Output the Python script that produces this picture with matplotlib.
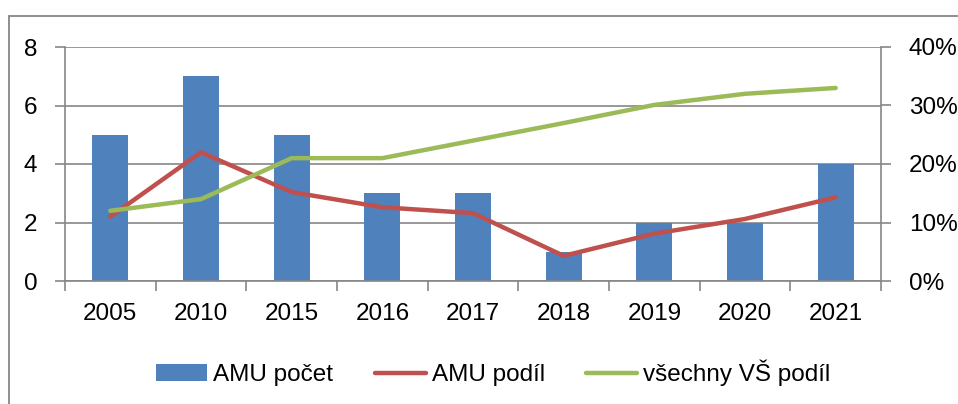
import numpy as np
import matplotlib
matplotlib.use("Agg")
import matplotlib.pyplot as plt
from matplotlib.patches import Rectangle
from matplotlib.ticker import FuncFormatter

# data
years = ["2005", "2010", "2015", "2016", "2017", "2018", "2019", "2020", "2021"]
amu_pocet = [5, 7, 5, 3, 3, 1, 2, 2, 4]
amu_podil = [11.0, 22.0, 15.2, 12.6, 11.6, 4.3, 8.1, 10.6, 14.3]
vs_podil = [12.0, 14.0, 21.0, 21.0, 24.0, 27.0, 30.1, 32.0, 33.0]

BLUE = "#4F81BD"
RED = "#C0504D"
GREEN = "#9BBB59"
GRID = "#868686"
FS = 17.5

plt.rcParams["font.family"] = ["Liberation Sans", "DejaVu Sans"]

fig = plt.figure(figsize=(9.58, 4.04), dpi=100)
# outer chart frame (cut off at right and bottom like the reference)
fig.patches.append(Rectangle((9 / 958, -0.1), 1.2, (404 - 16) / 404 + 0.1,
                             transform=fig.transFigure, fill=False,
                             edgecolor=GRID, linewidth=1.3))

ax = fig.add_axes([65 / 958, 1 - 281 / 404, (881 - 65) / 958, (281 - 47) / 404])
x = np.arange(len(years))

ax.bar(x, amu_pocet, width=0.4, color=BLUE, zorder=2, label="AMU počet")
ax.set_xlim(-0.5, len(years) - 0.5)
ax.set_ylim(0, 8)
ax.set_yticks([0, 2, 4, 6, 8])
ax.yaxis.grid(True, color=GRID, linewidth=1.2)
ax.set_axisbelow(True)
ax.set_xticks(x)
ax.set_xticklabels(years)
ax.set_xticks(np.arange(-0.5, len(years)), minor=True)
ax.tick_params(axis="x", which="major", length=0, pad=16, labelsize=FS)
ax.tick_params(axis="x", which="minor", length=7, color=GRID, width=1.2)
ax.tick_params(axis="y", length=7, color=GRID, width=1.2, labelsize=FS, pad=13)
for s in ["top", "right"]:
    ax.spines[s].set_visible(False)
for s in ["left", "bottom"]:
    ax.spines[s].set_color(GRID)
    ax.spines[s].set_linewidth(1.2)

ax2 = ax.twinx()
ax2.plot(x, amu_podil, color=RED, linewidth=3.2, solid_capstyle="round",
         solid_joinstyle="round", label="AMU podíl", zorder=3)
ax2.plot(x, vs_podil, color=GREEN, linewidth=3.2, solid_capstyle="round",
         solid_joinstyle="round", label="všechny VŠ podíl", zorder=3)
ax2.set_ylim(0, 40)
ax2.set_yticks([0, 10, 20, 30, 40])
ax2.yaxis.set_major_formatter(FuncFormatter(lambda v, p: f"{v:.0f}%"))
ax2.tick_params(axis="y", length=7, color=GRID, width=1.2, labelsize=FS, pad=13)
for s in ["top", "left", "bottom"]:
    ax2.spines[s].set_visible(False)
ax2.spines["right"].set_color(GRID)
ax2.spines["right"].set_linewidth(1.2)

h1, l1 = ax.get_legend_handles_labels()
h2, l2 = ax2.get_legend_handles_labels()
fig.legend(h1 + h2, l1 + l2, loc="center", bbox_to_anchor=(0.515, 1 - 373 / 404),
           ncol=3, frameon=False, fontsize=FS, handlelength=2.1,
           handleheight=0.7, handletextpad=0.25, columnspacing=1.7)

fig.savefig("out.png", dpi=100)
